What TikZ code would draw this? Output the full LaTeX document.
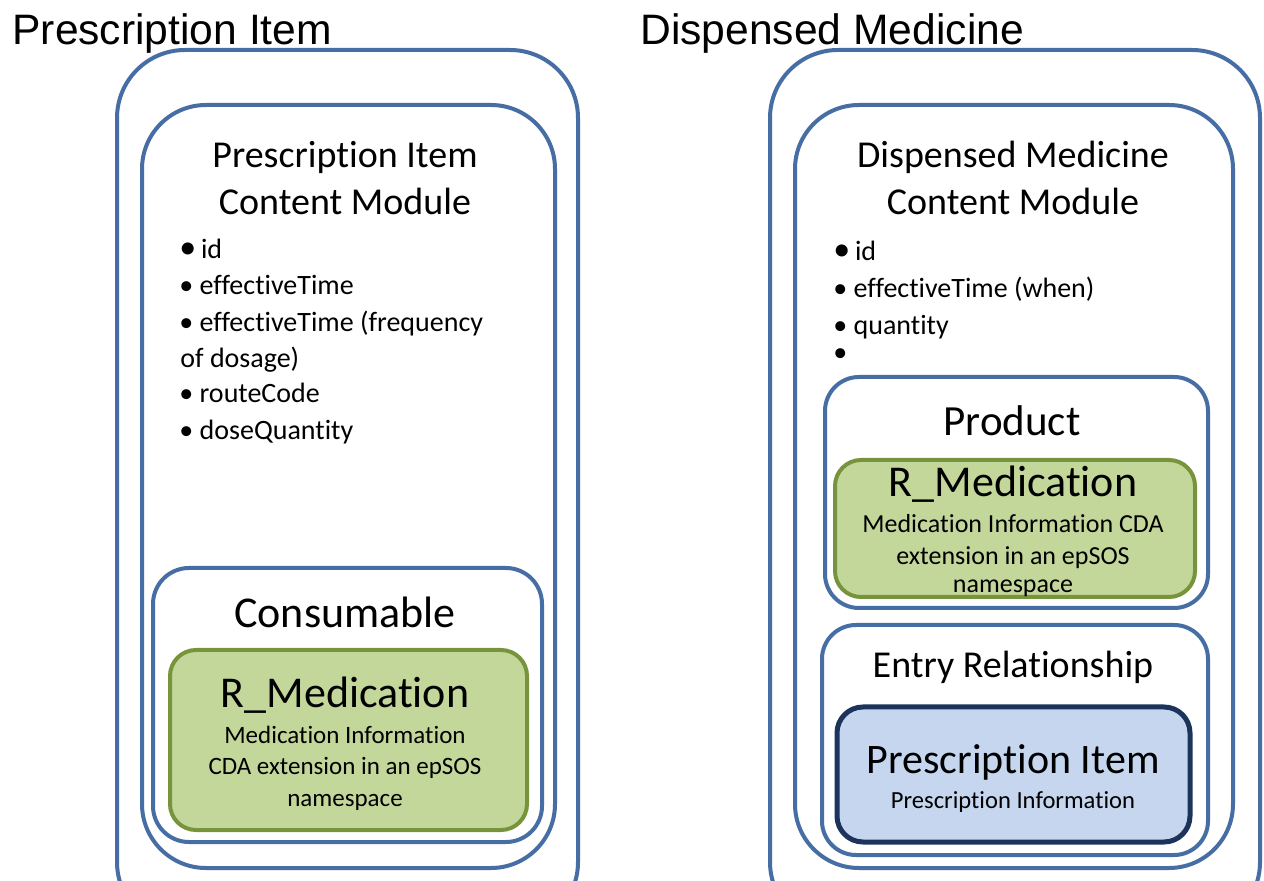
\documentclass[tikz,border=0pt]{standalone}
\usepackage{fontspec}
\setmainfont{Carlito}[Ligatures=NoCommon]
\newfontfamily\arialfont{Liberation Sans}
% keep t and i apart (no ti ligature)
\XeTeXinterchartokenstate=1
\newXeTeXintercharclass\tcls
\newXeTeXintercharclass\icls
\XeTeXcharclass`t=\tcls
\XeTeXcharclass`i=\icls
\XeTeXinterchartoks\tcls\icls={\kern0pt}
\definecolor{boxblue}{RGB}{70,110,165}
\definecolor{medfill}{RGB}{196,215,155}
\definecolor{medline}{RGB}{119,147,60}
\definecolor{itemfill}{RGB}{197,214,238}
\definecolor{itemline}{RGB}{28,52,92}
\newcommand{\fsz}[1]{\fontsize{#1}{#1}\selectfont}
\newcommand{\bigbul}{{\fsz{17}•}}

\begin{document}
\begin{tikzpicture}[x=0.5pt,y=-0.5pt,
	frame/.style={draw=boxblue, line width=2pt},
	medbox/.style={draw=medline, fill=medfill, line width=2pt},
	itembox/.style={draw=itemline, fill=itemfill, line width=2.5pt},
	title/.style={anchor=base west, font=\arialfont\fsz{21.3}},
	head/.style={anchor=base, font=\fsz{19}},
	item/.style={anchor=base west, font=\fsz{14}},
	small/.style={anchor=base, font=\fsz{12.5}}]
	\tikzstyle{every node}+=[inner sep=0pt]
	\useasboundingbox (0,0) rectangle (1264,881);
	\fill [white] (0,0) rectangle (1264,881);
	\clip (0,0) rectangle (1264,881);
	% prescription item
	\node [title] (ptitle) at (12,45) {Prescription Item};
	\draw [frame, rounded corners=34pt] (117,50) rectangle (578,930);
	\draw [frame, rounded corners=32pt] (142,105) rectangle (555,868);
	\node [head] (phead1) at (345,168) {Prescription Item};
	\node [head] (phead2) at (345,215) {Content Module};
	\node [item] (pid) at (179,259) {\bigbul\,id};
	\node [item] (ptime) at (179,295) {• effectiveTime};
	\node [item] (pfreq) at (179,332) {• effectiveTime (frequency};
	\node [item] (pdose) at (180,368) {of dosage)};
	\node [item] (proute) at (179,403) {• routeCode};
	\node [item] (pqty) at (179,440) {• doseQuantity};
	\draw [frame, rounded corners=18pt] (153,568) rectangle (542,842);
	\node [head, font=\fsz{22}] (pcons) at (345,628) {Consumable};
	\draw [medbox, rounded corners=13pt] (170,650) rectangle (527,830);
	\node [head, font=\fsz{22}] (pmed) at (345,707) {R\_Medication};
	\node [small] (pmed1) at (345,743) {Medication Information};
	\node [small] (pmed2) at (345,775) {CDA extension in an epSOS};
	\node [small] (pmed3) at (345,806) {namespace};
	% dispensed medicine
	\node [title] (dtitle) at (640,45) {Dispensed Medicine};
	\draw [frame, rounded corners=34pt] (770,50) rectangle (1260,930);
	\draw [frame, rounded corners=32pt] (795,105) rectangle (1233,868);
	\node [head] (dhead1) at (1013,168) {Dispensed Medicine};
	\node [head] (dhead2) at (1013,215) {Content Module};
	\node [item] (did) at (833,261) {\bigbul\,id};
	\node [item] (dtime) at (833,298) {• effectiveTime (when)};
	\node [item] (dqty) at (833,335) {• quantity};
	\node [item] (dnone) at (833,362) {•};
	\draw [frame, rounded corners=17pt] (825,377) rectangle (1208,608);
	\node [head, font=\fsz{21.5}] (dprod) at (1012,436) {Product};
	\draw [medbox, rounded corners=13pt] (835,460) rectangle (1195,597);
	\node [head, font=\fsz{22}] (dmed) at (1013,497) {R\_Medication};
	\node [small, font=\fsz{13}] (dmed1) at (1013,533) {Medication Information CDA};
	\node [small, font=\fsz{13}] (dmed2) at (1013,565) {extension in an epSOS};
	\node [small, font=\fsz{13}] (dmed3) at (1013,593) {namespace};
	\draw [frame, rounded corners=17pt] (822,625) rectangle (1208,855);
	\node [head] (dentry) at (1013,678) {Entry Relationship};
	\draw [itembox, rounded corners=13pt] (837,707) rectangle (1190,842);
	\node [head, font=\fsz{21}] (ditem) at (1013,773) {Prescription Item};
	\node [small, font=\fsz{12.3}] (dinfo) at (1013,808) {Prescription Information};
\end{tikzpicture}
\end{document}
